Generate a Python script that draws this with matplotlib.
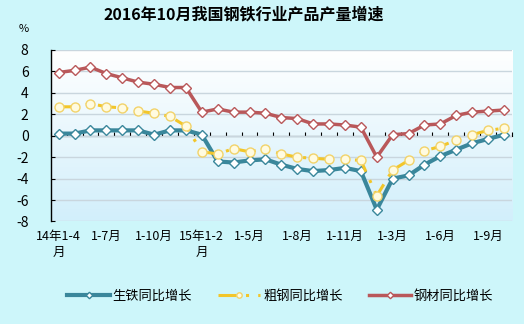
import numpy as np
import matplotlib
matplotlib.use("Agg")
import matplotlib.pyplot as plt
from matplotlib.colors import LinearSegmentedColormap

plt.rcParams['font.family'] = ['Noto Sans CJK SC', 'DejaVu Sans']
plt.rcParams['axes.unicode_minus'] = False

# 2014年1-4月 ... 2016年1-10月，累计同比增速(%)
months = ['14年1-4月', '1-5月', '1-6月', '1-7月', '1-8月', '1-9月', '1-10月', '1-11月', '1-12月',
          '15年1-2月', '1-3月', '1-4月', '1-5月', '1-6月', '1-7月', '1-8月', '1-9月', '1-10月',
          '1-11月', '1-12月',
          '16年1-2月', '1-3月', '1-4月', '1-5月', '1-6月', '1-7月', '1-8月', '1-9月', '1-10月']
pig_iron = [0.2, 0.2, 0.5, 0.5, 0.5, 0.5, 0.1, 0.5, 0.5,
            0.1, -2.4, -2.5, -2.3, -2.2, -2.7, -3.1, -3.3, -3.2, -3.0, -3.3,
            -6.9, -4.0, -3.7, -2.7, -1.9, -1.3, -0.7, -0.3, 0.1]
crude_steel = [2.7, 2.7, 3.0, 2.7, 2.6, 2.3, 2.1, 1.8, 0.9,
               -1.5, -1.7, -1.2, -1.5, -1.2, -1.7, -2.0, -2.1, -2.2, -2.2, -2.3,
               -5.6, -3.2, -2.3, -1.4, -1.0, -0.4, 0.1, 0.5, 0.7]
steel = [5.9, 6.1, 6.4, 5.8, 5.4, 5.0, 4.8, 4.5, 4.5,
         2.2, 2.5, 2.2, 2.2, 2.1, 1.7, 1.6, 1.1, 1.1, 1.0, 0.8,
         -2.0, 0.1, 0.2, 1.0, 1.1, 1.9, 2.2, 2.3, 2.4]
tick_idx = [0, 3, 6, 9, 12, 15, 18, 21, 24, 27]
tick_labels = ['14年1-4\n月', '1-7月', '1-10月', '15年1-2\n月', '1-5月', '1-8月', '1-11月',
               '1-3月', '1-6月', '1-9月']

x = np.arange(len(months))

fig = plt.figure(figsize=(5.24, 3.24), dpi=100, facecolor='#CDF6FA')
ax = fig.add_axes([0.0968, 0.3164, 0.8802, 0.5293])
ax.set_xlim(-0.5, len(months) - 0.5)

# light blue to white fill inside the plot area
grad = LinearSegmentedColormap.from_list('bg', ['#D2EFFB', '#FFFFFF'])
ax.imshow(np.linspace(0, 1, 100).reshape(-1, 1), cmap=grad, aspect='auto',
          extent=[-0.5, len(months) - 0.5, 8, -8], zorder=0, origin='upper')
ax.set_ylim(-8, 8)

ax.set_yticks(np.arange(-8, 9, 2))
ax.yaxis.grid(True, color='#C9D6DE', linewidth=1)
ax.set_axisbelow(True)
ax.tick_params(axis='y', direction='in', length=3, labelsize=10, pad=16, colors='black')
for s in ['top', 'right', 'bottom']:
    ax.spines[s].set_visible(False)
ax.spines['left'].set_linewidth(1)

ax.set_xticks(tick_idx)
ax.set_xticklabels(tick_labels, fontsize=9, linespacing=1.3, va='top')
ax.tick_params(axis='x', length=0, pad=6)

# zero line with a tick between each month
zero = ax.secondary_xaxis(0.5)
zero.set_xticks(np.arange(-0.5, len(months), 1))
zero.xaxis.set_ticks_position('bottom')
zero.tick_params(axis='x', direction='in', length=3, labelbottom=False, labeltop=False)
zero.spines['bottom'].set_linewidth(1.2)

ax.plot(x, pig_iron, color='#3A879B', lw=3, marker='D', ms=5.5, mfc='white',
        mec='#3A879B', mew=1, label='生铁同比增长', zorder=3)
ax.plot(x, crude_steel, color='#F2C62A', lw=2.2, ls=(0, (6, 3, 1, 3)), marker='o', ms=6.5,
        mfc='#FFFBE0', mec='#F2D36A', mew=1, label='粗钢同比增长', zorder=4)
ax.plot(x, steel, color='#B9585A', lw=2.5, marker='D', ms=5.5, mfc='white',
        mec='#B9585A', mew=1, label='钢材同比增长', zorder=3)

fig.text(0.466, 0.955, '2016年10月我国钢铁行业产品产量增速', ha='center', va='center',
         fontsize=11.5, fontweight='bold')
fig.text(0.045, 0.91, '%', ha='center', va='center', fontsize=8)

fig.legend(loc='center', bbox_to_anchor=(0.535, 0.085), ncol=3, frameon=False,
           fontsize=9.5, handlelength=3.2, columnspacing=2.0, handletextpad=0.2,
           markerscale=0.6)

fig.savefig('out.png', dpi=100, facecolor=fig.get_facecolor())
